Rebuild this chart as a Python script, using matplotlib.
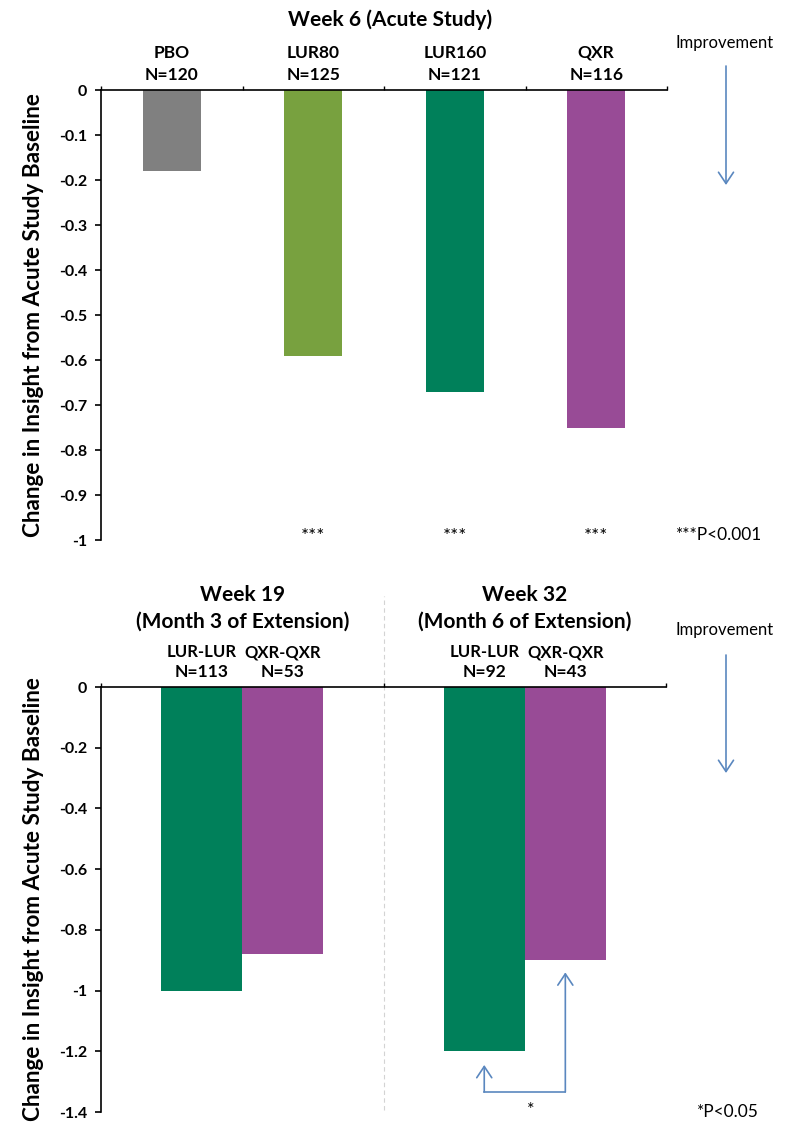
import matplotlib
matplotlib.use("Agg")
import matplotlib.pyplot as plt
import matplotlib.transforms as mtransforms
from matplotlib.patches import FancyArrowPatch
import numpy as np

plt.rcParams['font.family'] = ['Lato', 'DejaVu Sans']

# ---- data ----
top_title = "Week 6 (Acute Study)"
top_categories = ["PBO", "LUR80", "LUR160", "QXR"]
top_n = ["N=120", "N=125", "N=121", "N=116"]
top_values = [-0.18, -0.59, -0.67, -0.75]
top_colors = ["#808080", "#78A13F", "#00805A", "#984B96"]
top_sig = ["", "***", "***", "***"]
top_yticks = [0, -0.1, -0.2, -0.3, -0.4, -0.5, -0.6, -0.7, -0.8, -0.9, -1]
top_yticklabels = ["0", "-0.1", "-0.2", "-0.3", "-0.4", "-0.5", "-0.6", "-0.7", "-0.8", "-0.9", "-1"]

bot_groups = [["Week 19", "(Month 3 of Extension)"], ["Week 32", "(Month 6 of Extension)"]]
bot_series = ["LUR-LUR", "QXR-QXR"]
bot_n = [["N=113", "N=53"], ["N=92", "N=43"]]
bot_lur = [-1.0, -1.2]
bot_qxr = [-0.88, -0.90]
bot_colors = ["#00805A", "#984B96"]
bot_yticks = [0, -0.2, -0.4, -0.6, -0.8, -1.0, -1.2, -1.4]
bot_yticklabels = ["0", "-0.2", "-0.4", "-0.6", "-0.8", "-1", "-1.2", "-1.4"]

ylabel = "Change in Insight from Acute Study Baseline"
arrow_color = "#5A87BF"

W, H = 793, 1126
fig = plt.figure(figsize=(W / 100, H / 100), dpi=100)


def fy(py):
    return 1 - py / H


def fx(px):
    return px / W


def style_axis(ax):
    ax.spines['right'].set_visible(False)
    ax.spines['bottom'].set_visible(False)
    ax.spines['left'].set_linewidth(1.2)
    ax.spines['top'].set_linewidth(1.2)
    ax.xaxis.set_ticks_position('top')
    ax.set_xticklabels([])
    ax.tick_params(axis='x', direction='out', length=3, width=1)
    ax.tick_params(axis='y', direction='out', length=4, width=1.2, pad=6)
    ax.set_ylabel(ylabel, fontsize=16.2, fontweight='bold', labelpad=11)


ARROW = '->,head_length=0.45,head_width=0.3'

# ---------- Top chart ----------
ax1 = fig.add_axes([0.1274, 0.5204, 0.7137, 0.3996])
x = np.arange(len(top_categories))
ax1.bar(x, top_values, width=0.41, color=top_colors)
ax1.set_xlim(-0.5, len(top_categories) - 0.5)
ax1.set_ylim(-1, 0)
ax1.set_yticks(top_yticks)
ax1.set_yticklabels(top_yticklabels, fontsize=11.5, fontweight='bold')
ax1.set_xticks(np.arange(len(top_categories) + 1) - 0.5)
style_axis(ax1)
tr1 = mtransforms.blended_transform_factory(ax1.transData, fig.transFigure)
for xi, cat, n in zip(x, top_categories, top_n):
    ax1.text(xi, fy(53), cat, ha='center', va='center', fontsize=12.5,
             fontweight='bold', transform=tr1, clip_on=False)
    ax1.text(xi, fy(75), n, ha='center', va='center', fontsize=12.5,
             fontweight='bold', transform=tr1, clip_on=False)
for xi, s in zip(x, top_sig):
    if s:
        ax1.text(xi, fy(536), s, ha='center', va='center', fontsize=13.5,
                 transform=tr1, clip_on=False)
fig.text(fx(390), fy(20), top_title, ha='center', va='center',
         fontsize=15, fontweight='bold')
fig.text(fx(676), fy(535), "***P<0.001", ha='left', va='center', fontsize=12.5)

# ---------- Bottom chart ----------
ax2 = fig.add_axes([0.1274, 0.01243, 0.7125, 0.3774])
g = np.arange(len(bot_groups))
w = 0.287
ax2.bar(g - w / 2, bot_lur, width=w, color=bot_colors[0])
ax2.bar(g + w / 2, bot_qxr, width=w, color=bot_colors[1])
ax2.set_xlim(-0.5, len(bot_groups) - 0.5)
ax2.set_ylim(-1.4, 0)
ax2.set_yticks(bot_yticks)
ax2.set_yticklabels(bot_yticklabels, fontsize=11.5, fontweight='bold')
ax2.set_xticks(np.arange(len(bot_groups) + 1) - 0.5)
style_axis(ax2)
tr2 = mtransforms.blended_transform_factory(ax2.transData, fig.transFigure)

for gi, grp in zip(g, bot_groups):
    ax2.text(gi, fy(595), grp[0], ha='center', va='center', fontsize=15,
             fontweight='bold', transform=tr2, clip_on=False)
    ax2.text(gi, fy(622), grp[1], ha='center', va='center', fontsize=15,
             fontweight='bold', transform=tr2, clip_on=False)
    for k, (s, off) in enumerate(zip(bot_series, [-w / 2, w / 2])):
        ax2.text(gi + off, fy(652), s, ha='center', va='center', fontsize=12,
                 fontweight='bold', transform=tr2, clip_on=False)
        ax2.text(gi + off, fy(672), bot_n[gi][k], ha='center', va='center',
                 fontsize=12.5, fontweight='bold', transform=tr2, clip_on=False)

# divider between groups
ax2.plot([0.5, 0.5], [fy(1110), fy(596)], color="#D3D3D3", lw=0.8, ls=(0, (4, 3)),
         clip_on=False, zorder=0, transform=tr2)

# significance bracket (week 32)
bx = [1 - w / 2, 1 + w / 2]
tips = [-1.245, -0.94]
base = -1.334
ax2.plot([bx[0], bx[1]], [base, base], color=arrow_color, lw=1.2)
for xb, tp in zip(bx, tips):
    ax2.annotate("", xy=(xb, tp), xytext=(xb, base),
                 arrowprops=dict(arrowstyle=ARROW, color=arrow_color, lw=1.2,
                                 mutation_scale=18, shrinkA=0, shrinkB=0))
ax2.text(1.02, fy(1110), "*", ha='center', va='center', fontsize=13,
         transform=tr2, clip_on=False)
fig.text(fx(697), fy(1112), "*P<0.05", ha='left', va='center', fontsize=12.5)

# Improvement arrows
for ty, a0, a1 in [(43, 66, 185), (630, 655, 773)]:
    fig.text(fx(725), fy(ty), "Improvement", ha='center', va='center', fontsize=12)
    fig.add_artist(FancyArrowPatch(
        (fx(726), fy(a0)), (fx(726), fy(a1)),
        transform=fig.transFigure, arrowstyle=ARROW, color=arrow_color, lw=1.2,
        mutation_scale=18, shrinkA=0, shrinkB=0))

fig.savefig("out.png", dpi=100)
